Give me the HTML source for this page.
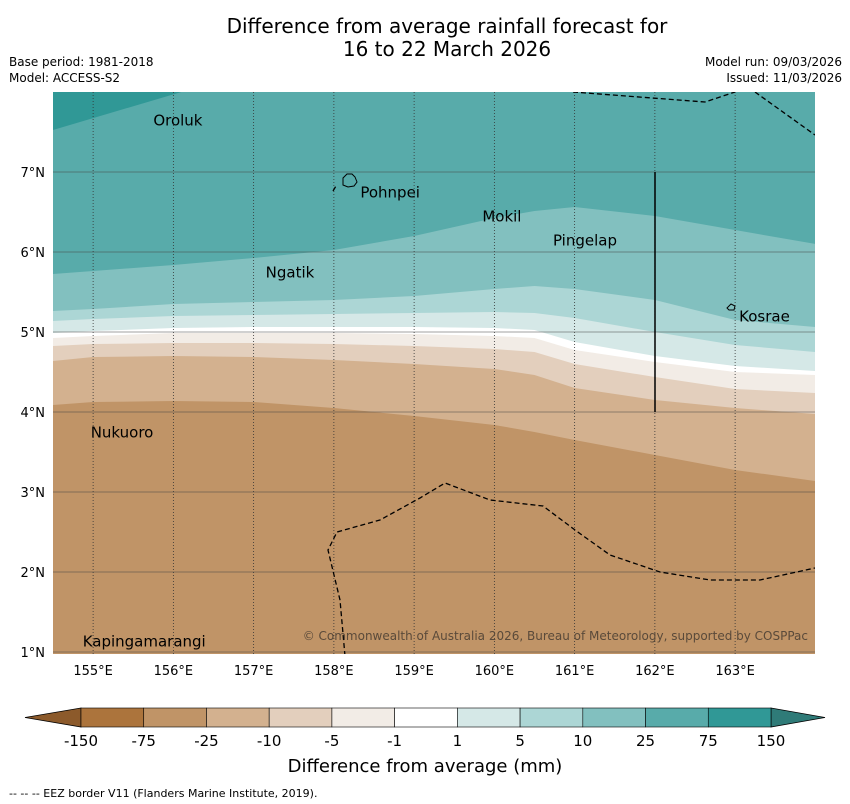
<!DOCTYPE html>
<html><head><meta charset="utf-8"><style>
body{margin:0;background:#fff;font-family:"Liberation Sans","DejaVu Sans",sans-serif;}
svg{display:block}
</style></head><body>
<svg id="c" width="850" height="804" xmlns="http://www.w3.org/2000/svg" font-family="DejaVu Sans, Liberation Sans, sans-serif">
<g>
<text x="447" y="33" font-size="20" text-anchor="middle">Difference from average rainfall forecast for</text>
<text x="447" y="56" font-size="20" text-anchor="middle">16 to 22 March 2026</text></g>
<text x="9" y="66" font-size="12">Base period: 1981-2018</text>
<text x="9" y="82" font-size="12">Model: ACCESS-S2</text>
<text x="842" y="66" font-size="12" text-anchor="end">Model run: 09/03/2026</text>
<text x="842" y="82" font-size="12" text-anchor="end">Issued: 11/03/2026</text>
<defs><clipPath id="mc"><rect x="53" y="92" width="762" height="562"/></clipPath></defs>
<g id="map" clip-path="url(#mc)"></g>
<g id="over"></g>
<text x="425" y="772" font-size="18" text-anchor="middle">Difference from average (mm)</text>
<text x="9" y="797" font-size="11">--  --  -- EEZ border V11 (Flanders Marine Institute, 2019).</text>
</svg>
<script>
const lonPts=[154.5,155,156,157,158,159,160,160.5,161,162,163,164];
const b25=[5.725,5.763,5.838,5.925,6.025,6.2,6.425,6.513,6.563,6.45,6.275,6.1];
const b10=[5.263,5.288,5.35,5.375,5.4,5.45,5.538,5.575,5.538,5.4,5.15,5.063];
const b5=[5.138,5.163,5.2,5.213,5.225,5.238,5.25,5.238,5.175,5.0,4.838,4.75];
const b1=[4.988,5.013,5.05,5.063,5.063,5.063,5.05,5.025,4.875,4.7,4.575,4.513];
const bm1=[4.925,4.95,4.988,4.988,4.988,4.975,4.95,4.925,4.775,4.625,4.5,4.463];
const bm5=[4.825,4.85,4.863,4.863,4.85,4.825,4.788,4.75,4.6,4.438,4.288,4.238];
const bm10=[4.638,4.688,4.7,4.688,4.65,4.6,4.538,4.463,4.3,4.15,4.05,3.975];
const bm25=[4.088,4.125,4.138,4.125,4.05,3.95,3.838,3.75,3.65,3.463,3.275,3.138];
const cbLabels=["-150","-75","-25","-10","-5","-1","1","5","10","25","75","150"];
const cbColors=["#ac743c","#c09467","#d3b18f","#e3cfbd","#f2ece6","#ffffff","#d5e8e7","#acd6d5","#82c0bf","#58abaa","#309896"];
const lonTicks=[155,156,157,158,159,160,161,162,163];
const latTicks=[1,2,3,4,5,6,7];
const places=[["Oroluk",155.75,7.58],["Pohnpei",158.33,6.68],["Mokil",159.85,6.38],["Pingelap",160.73,6.08],["Ngatik",157.15,5.68],["Kosrae",163.05,5.13],["Nukuoro",154.97,3.68],["Kapingamarangi",154.87,1.07]];
const NS="http://www.w3.org/2000/svg";
const X=lon=>53+(lon-154.5)*80.25, Y=lat=>92+(8-lat)*80;
function el(t,a,p){const e=document.createElementNS(NS,t);for(const k in a)e.setAttribute(k,a[k]);p.appendChild(e);return e;}
const map=document.getElementById('map'), over=document.getElementById('over');
let bg=el('rect',{x:53,y:92,width:762,height:562,fill:cbColors[1]},map);


const bands=[[bm25,cbColors[2],'band-minus25-minus10'],[bm10,cbColors[3],'band-minus10-minus5'],[bm5,cbColors[4],'band-minus5-minus1'],[bm1,cbColors[5],'band-minus1-1'],[b1,cbColors[6],'band-1-5'],[b5,cbColors[7],'band-5-10'],[b10,cbColors[8],'band-10-25'],[b25,cbColors[9],'band-25-75']];
bands.forEach(([b,c,n])=>{
 let d='M'+X(154.5)+','+Y(8.1);
 lonPts.forEach((l,i)=>{d+=' L'+X(l).toFixed(1)+','+Y(b[i]).toFixed(1);});
 d+=' L'+X(164)+','+Y(8.1)+'Z';
 const p=el('path',{d:d,fill:c},map);
 
 
});
const corner=el('path',{d:`M${X(154.5)},${Y(7.525)} L${X(156.1)},${Y(8)} L${X(154.5)},${Y(8)}Z`,fill:cbColors[10]},map);


lonTicks.forEach(l=>{
 const g=el('line',{x1:X(l),x2:X(l),y1:92,y2:654,stroke:'#333','stroke-width':0.8,'stroke-dasharray':'1,2'},map);
 
 
 const t=el('text',{x:X(l),y:675,'font-size':13,'text-anchor':'middle'},over);t.textContent=l+'°E';
 
 
});
latTicks.forEach(l=>{
 const g=el('line',{x1:53,x2:815,y1:Y(l),y2:Y(l),stroke:'#444','stroke-width':0.5},map);
 
 
 const t=el('text',{x:45,y:Y(l)+5,'font-size':13,'text-anchor':'end'},over);t.textContent=l+'°N';
 
 
});
const eez=[[[573,92],[705,102],[735,92]],[[755,92],[815,135]],[[345,656],[340,600],[328,550],[337,532],[380,520],[420,498],[445,483],[490,500],[543,506],[575,530],[610,555],[660,572],[710,580],[760,580],[815,568]],[[333,191],[336,186]]];
eez.forEach(s=>{const e=el('polyline',{points:s.map(p=>p.join(',')).join(' '),fill:'none',stroke:'#000','stroke-width':1.3,'stroke-dasharray':'5,3'},map);
 
 });
const vl=el('line',{x1:655,x2:655,y1:172,y2:412,stroke:'#000','stroke-width':1.5},map);


const isl=el('path',{d:'M343,178 l4,-4 5,0 3,3 2,5 -3,4 -6,1 -5,-2 z M727,308 l4,-4 4,2 -1,4 -5,0 z',fill:'none',stroke:'#000','stroke-width':1},map);


places.forEach(([n,lo,la])=>{const t=el('text',{x:X(lo),y:Y(la),'font-size':15},map);t.textContent=n;
 
 });
const cp=el('text',{x:808,y:640,'font-size':12,'text-anchor':'end',fill:'#5a4a3a'},map);
cp.textContent='© Commonwealth of Australia 2026, Bureau of Meteorology, supported by COSPPac';


const cb=el('g',{},document.getElementById('c'));


const w=(771-81)/cbColors.length;
const lt=el('path',{d:'M81,708 L25,717.5 L81,727Z',fill:'#8c5a2b',stroke:'#000','stroke-width':0.8},cb);


const rt=el('path',{d:'M771,708 L825,717.5 L771,727Z',fill:'#2f7b78',stroke:'#000','stroke-width':0.8},cb);


cbColors.forEach((c,i)=>{const r=el('rect',{x:81+i*w,y:708,width:w,height:19,fill:c,stroke:'#000','stroke-width':0.6},cb);
 
 });
cbLabels.forEach((s,i)=>{const t=el('text',{x:81+i*w,y:746,'font-size':15,'text-anchor':'middle'},cb);t.textContent=s;
 
 });
</script>
</body></html>
